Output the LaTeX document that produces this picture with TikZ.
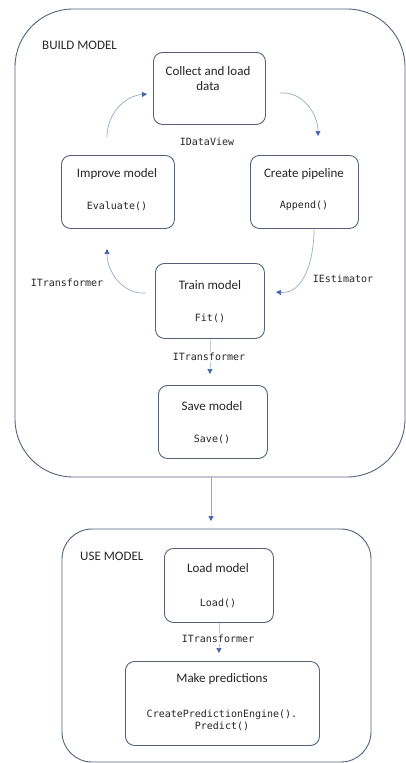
\documentclass[tikz,border=0pt]{standalone}
\usepackage{fontspec}
\setmainfont{Carlito}
\setmonofont{DejaVu Sans Mono}
\usetikzlibrary{arrows.meta,calc}
\definecolor{boxline}{HTML}{55617A}
\definecolor{arrline}{HTML}{9AAAC6}
\definecolor{arrhead}{HTML}{4466A8}
\definecolor{txt}{HTML}{262626}
\begin{document}
\begin{tikzpicture}[x=1pt,y=-1pt,
  stepbox/.style={draw=boxline,line width=0.9pt,rounded corners=9pt,fill=white},
  group/.style={draw=boxline,line width=0.9pt},
  title/.style={font=\fontsize{13}{14}\selectfont,text=txt,inner sep=0pt},
  code/.style={font=\ttfamily\fontsize{10}{12}\selectfont,text=txt,inner sep=0pt},
  flow/.style={draw=arrline,line width=0.7pt,-{Triangle[length=5pt,width=5pt,color=arrhead]}},
  lbl/.style={font=\ttfamily\fontsize{10}{12}\selectfont,text=txt,fill=white,inner sep=1pt}
]
\useasboundingbox (0,0) rectangle (406,763);
% outer groups
\draw[group,rounded corners=58pt] (15,9) rectangle (405,477);
\coordinate (buildbot) at (211,477);
\draw[group,rounded corners=30pt] (62,529) rectangle (371,762);
\coordinate (usetop) at (211,529);
\node[title,anchor=west] (buildlbl) at (42,45) {BUILD MODEL};
\node[title,anchor=west] (uselbl) at (80,556) {USE MODEL};

% step boxes
\node[stepbox,minimum width=112pt,minimum height=72pt,anchor=north west] (collect) at (153,52) {};
\node[title,align=center] (collectT) at (208,79) {Collect and load\\[1pt]data};

\node[stepbox,minimum width=113pt,minimum height=73pt,anchor=north west] (improve) at (61,155) {};
\node[title] (improveT) at (117,174) {Improve model};
\node[code] (improveC) at (117,206) {Evaluate()};

\node[stepbox,minimum width=108pt,minimum height=73pt,anchor=north west] (create) at (250,155) {};
\node[title] (createT) at (304,174) {Create pipeline};
\node[code] (createC) at (304,206) {Append()};

\node[stepbox,minimum width=109pt,minimum height=75pt,anchor=north west] (train) at (155,263) {};
\node[title] (trainT) at (210,285) {Train model};
\node[code] (trainC) at (210,318) {Fit()};

\node[stepbox,minimum width=109pt,minimum height=73pt,anchor=north west] (save) at (158,385) {};
\node[title] (saveT) at (212,406) {Save model};
\node[code] (saveC) at (212,439) {Save()};

\node[stepbox,minimum width=109pt,minimum height=74pt,anchor=north west] (load) at (164,548) {};
\node[title] (loadT) at (218,568) {Load model};
\node[code] (loadC) at (218,603) {Load()};

\node[stepbox,minimum width=194pt,minimum height=84pt,anchor=north west] (make) at (125,661) {};
\node[title] (makeT) at (222,679) {Make predictions};
\node[code,align=center] (makeC) at (222,720) {CreatePredictionEngine().\\Predict()};

% cycle arrows
\coordinate (a1s) at (107,137); \coordinate (a1e) at (147,94);
\draw[flow] (a1s) to[out=90,in=185] (a1e);
\coordinate (a2s) at (280,93); \coordinate (a2e) at (318,136);
\draw[flow] (a2s) to[out=5,in=90] (a2e);
\coordinate (a3s) at (314,230); \coordinate (a3e) at (276,292);
\draw[flow] (a3s) to[out=-90,in=-5] (a3e);
\coordinate (a4s) at (146,293); \coordinate (a4e) at (107,249);
\draw[flow] (a4s) to[out=185,in=-90] (a4e);

\node[lbl] (lDataView) at (207,142) {IDataView};
\node[lbl] (lEst) at (343,279) {IEstimator};
\node[lbl] (lTr1) at (67,283) {ITransformer};

% straight arrows
\draw[flow,draw=arrline!60,shorten >=11pt] (train.south) -- (train.south |- save.north);
\node[lbl] (lTr2) at (209,357) {ITransformer};
\draw[flow] (buildbot) -- ($(usetop)+(0,-8)$);
\draw[flow,draw=arrline!60,shorten >=8pt] (load.south) -- (load.south |- make.north);
\node[lbl] (lTr3) at (218,639) {ITransformer};
\end{tikzpicture}
\end{document}
